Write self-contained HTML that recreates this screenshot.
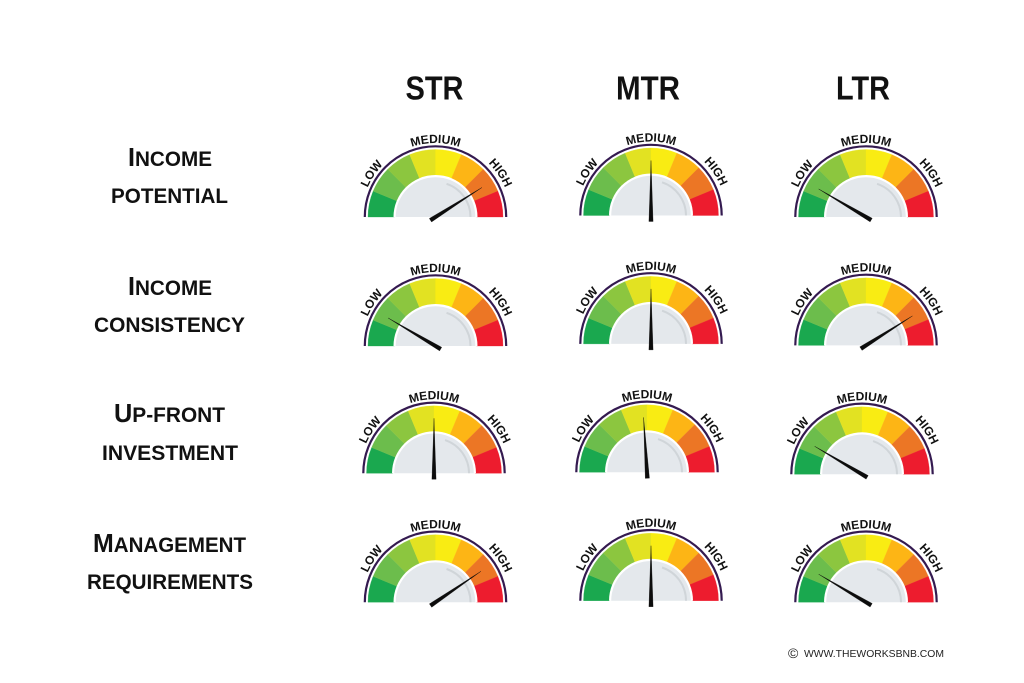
<!DOCTYPE html>
<html lang="en">
<head>
<meta charset="utf-8">
<title>STR, MTR and LTR comparison gauges</title>
<style>
html,body{margin:0;padding:0;background:#fff;}
svg{display:block;}
text{font-family:"Liberation Sans",sans-serif;font-weight:bold;fill:#111;}
</style>
</head>
<body>
<svg id="chart" xmlns="http://www.w3.org/2000/svg" width="1024" height="683" viewBox="0 0 1024 683">
  <rect width="1024" height="683" fill="#ffffff"/>
  <text x="405.5" y="99.5" font-size="33.5" textLength="58" lengthAdjust="spacingAndGlyphs">STR</text>
  <text x="616" y="99.5" font-size="33.5" textLength="64" lengthAdjust="spacingAndGlyphs">MTR</text>
  <text x="836" y="99.5" font-size="33.5" textLength="54" lengthAdjust="spacingAndGlyphs">LTR</text>

  <text x="128" y="166" textLength="84" lengthAdjust="spacingAndGlyphs"><tspan font-size="25.5">I</tspan><tspan font-size="21" style="text-transform:uppercase">ncome</tspan></text>
  <text x="111" y="203" font-size="21" textLength="117" lengthAdjust="spacingAndGlyphs" style="text-transform:uppercase">potential</text>
  <text x="128" y="295" textLength="84" lengthAdjust="spacingAndGlyphs"><tspan font-size="25.5">I</tspan><tspan font-size="21" style="text-transform:uppercase">ncome</tspan></text>
  <text x="94" y="332" font-size="21" textLength="151" lengthAdjust="spacingAndGlyphs" style="text-transform:uppercase">consistency</text>
  <text x="114" y="422" textLength="111" lengthAdjust="spacingAndGlyphs"><tspan font-size="25.5">U</tspan><tspan font-size="21" style="text-transform:uppercase">p-front</tspan></text>
  <text x="102" y="460" font-size="21" textLength="136" lengthAdjust="spacingAndGlyphs" style="text-transform:uppercase">investment</text>
  <text x="93" y="552" textLength="153" lengthAdjust="spacingAndGlyphs"><tspan font-size="25.5">M</tspan><tspan font-size="21" style="text-transform:uppercase">anagement</tspan></text>
  <text x="87" y="589" font-size="21" textLength="166" lengthAdjust="spacingAndGlyphs" style="text-transform:uppercase">requirements</text>

  <text x="788" y="658" font-size="14" style="font-weight:normal;fill:#222">©</text>
  <text x="804" y="657" font-size="10.5" textLength="140" lengthAdjust="spacingAndGlyphs" style="font-weight:normal;fill:#222">WWW.THEWORKSBNB.COM</text>

  <g id="gauges"></g>
</svg>
<script>
// Chart data: needle reading per row, on a 0 (low) to 100 (high) scale
const metrics = ["income-potential", "income-consistency", "up-front-investment", "management-requirements"];
const rentalTypes = ["str", "mtr", "ltr"];
const strReadings = [82, 17, 50, 81];
const mtrReadings = [50, 50, 48, 50];
const ltrReadings = [17, 82, 17, 17];
const zoneLabels = ["LOW", "MEDIUM", "HIGH"];

// Styling
const segmentColors = ["#1aa84f", "#6cbd4c", "#8cc63f", "#e2e222", "#f9ec13", "#fdb515", "#ec7625", "#ed1c2e"];
const labelOffsets = [19, 50, 81];

// Layout of the gauge grid (the source artwork is slightly uneven)
function gaugeCenterX(col, row) {
  if (col === 1) return row === 2 ? 647 : 651;
  if (col === 2) return row === 2 ? 862 : 866;
  return row === 2 ? 434 : 435.5;
}
function gaugeCenterY(col, row) {
  const base = 217 + row * 128.4;
  if (col === 1) return base - 1.5;
  if (row === 2) return base + (col === 2 ? 0.5 : -0.5);
  return base + (col === 0 && row === 1 ? 0.6 : 0);
}

// Axis function: reading -> angle in radians (180deg at low, 0deg at high)
function readingToAngle(reading) {
  return Math.PI - (reading / 100) * Math.PI;
}
function polar(cx, cy, r, angle) {
  return [cx + r * Math.cos(angle), cy - r * Math.sin(angle)];
}
function arcPath(cx, cy, r, a0, a1) {
  const p0 = polar(cx, cy, r, a0);
  const p1 = polar(cx, cy, r, a1);
  return "M" + p0[0].toFixed(2) + " " + p0[1].toFixed(2) + " A" + r + " " + r + " 0 0 1 " + p1[0].toFixed(2) + " " + p1[1].toFixed(2);
}
function make(tag, attrs, parent) {
  const node = document.createElementNS("http://www.w3.org/2000/svg", tag);
  for (const key in attrs) node.setAttribute(key, attrs[key]);
  parent.appendChild(node);
  return node;
}

const root = document.getElementById("gauges");
const readingsByType = [strReadings, mtrReadings, ltrReadings];

rentalTypes.forEach(function (type, col) {
  metrics.forEach(function (metric, row) {
    const cx = gaugeCenterX(col, row);
    const cy = gaugeCenterY(col, row);
    const reading = readingsByType[col][row];
    const gaugeId = type + "-" + row;

    const g = make("g", {}, root);
    
    

    const frame = make("path", { d: arcPath(cx, cy, 70.7, Math.PI, 0), fill: "none", stroke: "#341a50", "stroke-width": 2.2 }, g);
    
    

    segmentColors.forEach(function (color, i) {
      const a0 = Math.PI - i * Math.PI / segmentColors.length;
      const a1 = Math.PI - (i + 1) * Math.PI / segmentColors.length;
      const p = polar(cx, cy, 67.5, a0);
      const q = polar(cx, cy, 67.5, a1);
      const r = polar(cx, cy, 41, a1);
      const s = polar(cx, cy, 41, a0);
      const seg = make("path", {
        d: "M" + p[0] + " " + p[1] + " A67.5 67.5 0 0 1 " + q[0] + " " + q[1] + " L" + r[0] + " " + r[1] + " A41 41 0 0 0 " + s[0] + " " + s[1] + " Z",
        fill: color, stroke: color, "stroke-width": 0.3
      }, g);
      
      
    });

    const ring = make("path", { d: arcPath(cx, cy, 42, Math.PI, 0) + " Z", fill: "#ffffff" }, g);
    
    

    const face = make("path", { d: arcPath(cx, cy, 39.8, Math.PI, 0) + " Z", fill: "#e4e8ec" }, g);
    
    

    const shade = make("path", { d: arcPath(cx, cy, 35, 1.25, 0), fill: "none", stroke: "#d0d5d9", "stroke-width": 2 }, g);
    
    

    zoneLabels.forEach(function (label, i) {
      const labelId = "label-arc-" + gaugeId + "-" + i;
      const labelRadius = i === 2 ? 75.5 : 74;
      const labelPath = make("path", { id: labelId, d: arcPath(cx, cy, labelRadius, Math.PI, 0), fill: "none" }, g);
      
      

      const t = make("text", { "font-size": 12, "text-anchor": "middle" }, g);
      
      
      const tp = make("textPath", { href: "#" + labelId, startOffset: labelOffsets[i] + "%" }, t);
      tp.textContent = label;
    });

    // Needle: tapered wedge rotated to the reading's angle
    const angle = readingToAngle(reading);
    const tip = polar(cx, cy, 55, angle);
    const tail = polar(cx, cy, -6, angle);
    const nx = Math.sin(angle) * 2.1;
    const ny = Math.cos(angle) * 2.1;
    const needle = make("polygon", {
      points: [
        tip[0].toFixed(2) + "," + tip[1].toFixed(2),
        (tail[0] + nx).toFixed(2) + "," + (tail[1] + ny).toFixed(2),
        (tail[0] - nx).toFixed(2) + "," + (tail[1] - ny).toFixed(2)
      ].join(" "),
      fill: "#0c0c0c", stroke: "#0c0c0c", "stroke-width": 0.3, "stroke-linejoin": "round"
    }, g);
    
    
  });
});
</script>
</body>
</html>
